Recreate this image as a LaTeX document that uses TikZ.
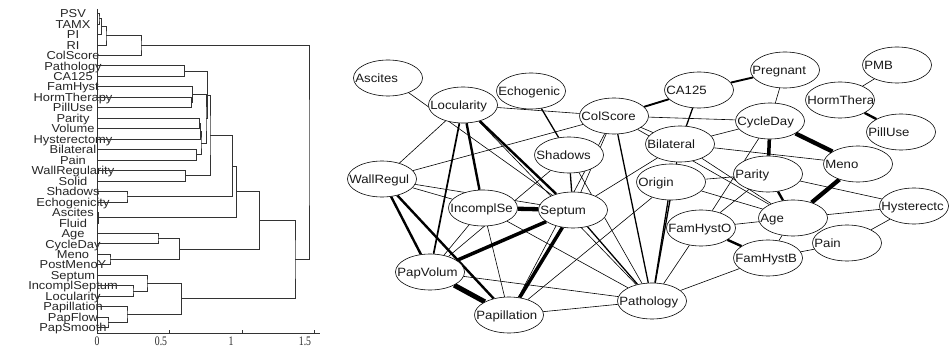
\documentclass[tikz,border=0pt]{standalone}
\usepackage{fontspec}
\usetikzlibrary{shapes.geometric,backgrounds}
\newfontfamily\dendfamily[FakeStretch=1.12]{Liberation Sans}
\newfontfamily\graphfamily[FakeStretch=1.1]{Liberation Sans}
\newfontfamily\axisfamily[FakeStretch=0.75]{Liberation Serif}
\newcommand\dendtext{\dendfamily\fontsize{11.5pt}{12pt}\selectfont}
\newcommand\graphtext{\graphfamily\fontsize{12pt}{13pt}\selectfont}
\newcommand\axistext{\axisfamily\fontsize{13pt}{14pt}\selectfont}
\newlength\leafwd
% graph node: ellipse with its label set flush left inside
\newcommand\gnode[4]{%
  \node[gn] (#1) at (#2,#3) {};
  \node[gl] (#1t) at ([xshift=2pt,yshift=-4.5pt]#1.west) {#4};}
\begin{document}
\begin{tikzpicture}[x=1pt,y=-1pt,
  tree/.style={line width=0.75pt, draw=black!80},
  leaflab/.style={anchor=base, inner sep=0pt, font=\dendtext, text=black!85},
  ticklab/.style={anchor=base, inner sep=0pt, font=\axistext, text=black!85},
  gn/.style={ellipse, draw, fill=white, line width=0.6pt,
    minimum width=69pt, minimum height=36pt, inner sep=0pt},
  gl/.style={anchor=base west, inner sep=0pt, font=\graphtext, text=black!90},
  w1/.style={line width=0.6pt},
  w2/.style={line width=1.3pt},
  w3/.style={line width=2.4pt},
  w4/.style={line width=3.5pt},
  w5/.style={line width=5pt}]
\useasboundingbox (0,0) rectangle (949,347);

% ---------------- dendrogram ----------------
\foreach \i in {0,...,30} \coordinate (L\i) at (97,{13.5+10.47*\i});

\foreach \i/\t in {0/PSV,1/TAMX,2/PI,3/RI,4/ColScore,5/Pathology,6/CA125,
  7/FamHyst,8/HormTherapy,9/PillUse,10/Parity,11/Volume,12/Hysterectomy,
  13/Bilateral,14/Pain,15/WallRegularity,16/Solid,17/Shadows,
  18/Echogenicity,19/Ascites,20/Fluid,21/Age,22/CycleDay,23/Meno,
  24/PostMenoY,25/Septum,26/IncomplSeptum,27/Locularity,28/Papillation,
  29/PapFlow,30/PapSmooth}{
  \settowidth{\leafwd}{\dendtext\t}
  \pgfmathsetmacro\cx{73-0.2*\leafwd}
  \node[leaflab] (lab\i) at (\cx,{17.7+10.47*\i}) {\t};
}

\coordinate (c01)   at (99,18.74);
\coordinate (c012)  at (101.5,26.59);
\coordinate (c0123) at (106,35.75);
\coordinate (ctop)  at (141,45.57);
\coordinate (cA)    at (184.3,71.09);
\coordinate (cB)    at (191.3,102.5);
\coordinate (cC)    at (192.3,94.64);
\coordinate (cD)    at (199.3,123.44);
\coordinate (cE)    at (200.3,131.29);
\coordinate (cF)    at (196.7,154.85);
\coordinate (cG)    at (201,143.07);
\coordinate (cH)    at (206,118.86);
\coordinate (cI)    at (207.3,94.97);
\coordinate (cJ)    at (185.3,175.79);
\coordinate (cK)    at (210,135.38);
\coordinate (cSE)   at (127,196.73);
\coordinate (cL)    at (232.3,166.05);
\coordinate (cAF)   at (98.5,217.67);
\coordinate (cM)    at (236.7,191.86);
\coordinate (cAC)   at (158,238.6);
\coordinate (cMP)   at (110,259.55);
\coordinate (cAG)   at (179.7,249.07);
\coordinate (cN)    at (259.3,220.47);
\coordinate (cIL)   at (133,290.96);
\coordinate (cSIL)  at (147,283.1);
\coordinate (cPF)   at (108,322.37);
\coordinate (cPP)   at (127,314.5);
\coordinate (cSP)   at (181.7,298.8);
\coordinate (cO)    at (295,259.6);
\coordinate (cP)    at (309,152.6);

\foreach \a/\p/\b in {L0/c01/L1, c01/c012/L2, c012/c0123/L3, c0123/ctop/L4,
  L5/cA/L6, L8/cB/L9, L7/cC/cB, L10/cD/L11, cD/cE/L12, L13/cF/L14,
  cE/cG/cF, cC/cH/cG, cA/cI/cH, L15/cJ/L16, cI/cK/cJ, L17/cSE/L18,
  cK/cL/cSE, L19/cAF/L20, cL/cM/cAF, L21/cAC/L22, L23/cMP/L24,
  cAC/cAG/cMP, cM/cN/cAG, L26/cIL/L27, L25/cSIL/cIL, L29/cPF/L30,
  L28/cPP/cPF, cSIL/cSP/cPP, cN/cO/cSP, ctop/cP/cO}
  \draw[tree] (\a) -| (\p) |- (\b);

% axes
\coordinate (axTop) at (97,9);
\coordinate (ax0) at (97,333.5);
\coordinate (axEnd) at (320,333.5);
\coordinate (tk1) at (169.5,333.5);
\coordinate (tk2) at (242,333.5);
\coordinate (tk3) at (314.5,333.5);
\draw[tree] (axTop) -- (ax0) -- (axEnd);
\foreach \t in {tk1,tk2,tk3} \draw[tree] (\t) -- ++(0,-3.5);
\node[ticklab] (n0)  at (97,345.5) {0};
\node[ticklab] (n05) at (161,345.5) {0.5};
\node[ticklab] (n1)  at (231,345.5) {1};
\node[ticklab] (n15) at (305,345.5) {1.5};

% ---------------- dependency graph ----------------
\gnode{ascites}{388}{78}{Ascites}
\gnode{locul}{463}{105}{Locularity}
\gnode{echo}{531}{91}{Echogenic}
\gnode{colscore}{614}{116}{ColScore}
\gnode{shadows}{569}{155}{Shadows}
\gnode{wallreg}{382}{179}{WallRegul}
\gnode{incompl}{483}{208}{IncomplSe}
\gnode{septum}{573}{210}{Septum}
\gnode{papvol}{430}{272}{PapVolum}
\gnode{papill}{509}{315}{Papillation}
\gnode{pathol}{652}{301}{Pathology}
\gnode{ca125}{699}{90}{CA125}
\gnode{bilat}{680}{144}{Bilateral}
\gnode{origin}{671}{182}{Origin}
\gnode{pregnant}{785}{70}{Pregnant}
\gnode{pmb}{897}{65}{PMB}
\gnode{hormth}{840}{100}{HormThera}
\gnode{pilluse}{901}{132}{PillUse}
\gnode{cycleday}{770}{121}{CycleDay}
\gnode{meno}{858}{164}{Meno}
\gnode{parity}{768}{174}{Parity}
\gnode{hyst}{914}{206}{Hysterectc}
\gnode{age}{793}{218}{Age}
\gnode{famo}{701}{228}{FamHystO}
\gnode{famb}{768}{258}{FamHystB}
\gnode{pain}{847}{243}{Pain}

\begin{scope}[on background layer]
  % weak links
  \foreach \a/\b in {ascites/septum, locul/colscore, locul/wallreg,
    wallreg/colscore, wallreg/incompl, wallreg/septum, colscore/bilat,
    colscore/cycleday, pregnant/cycleday, bilat/cycleday, bilat/meno,
    cycleday/famo, hormth/pmb, parity/hyst, age/hyst, pain/hyst,
    famb/pain, famo/age, origin/age, origin/parity, colscore/age,
    bilat/age, age/famb, pathol/famo, pathol/famb, pathol/papill,
    papvol/pathol, incompl/pathol, shadows/pathol, locul/pathol,
    colscore/septum, colscore/papill, shadows/papvol, incompl/papill,
    incompl/papvol, bilat/septum, origin/papill, famo/parity}
    \draw[w1] (\a) -- (\b);
  % medium links
  \foreach \a/\b in {echo/shadows, ca125/bilat, colscore/pathol,
    origin/pathol, bilat/pathol, septum/pathol, shadows/septum}
    \draw[w2] (\a) -- (\b);
  \draw[line width=1.9pt] (colscore) -- (ca125);
  \draw[line width=1.9pt] (ca125) -- (pregnant);
  \draw[line width=1.7pt] (locul) -- (papvol);
  % strong links
  \foreach \a/\b in {locul/incompl, locul/septum, wallreg/papvol,
    wallreg/papill, parity/age, famo/famb, hormth/pilluse}
    \draw[w3] (\a) -- (\b);
  \foreach \a/\b in {papvol/septum, septum/papill, cycleday/parity}
    \draw[w4] (\a) -- (\b);
  \foreach \a/\b in {incompl/septum, cycleday/meno, meno/age}
    \draw[line width=4.3pt] (\a) -- (\b);
  \draw[w5] (papvol) -- (papill);
\end{scope}
\end{tikzpicture}
\end{document}
